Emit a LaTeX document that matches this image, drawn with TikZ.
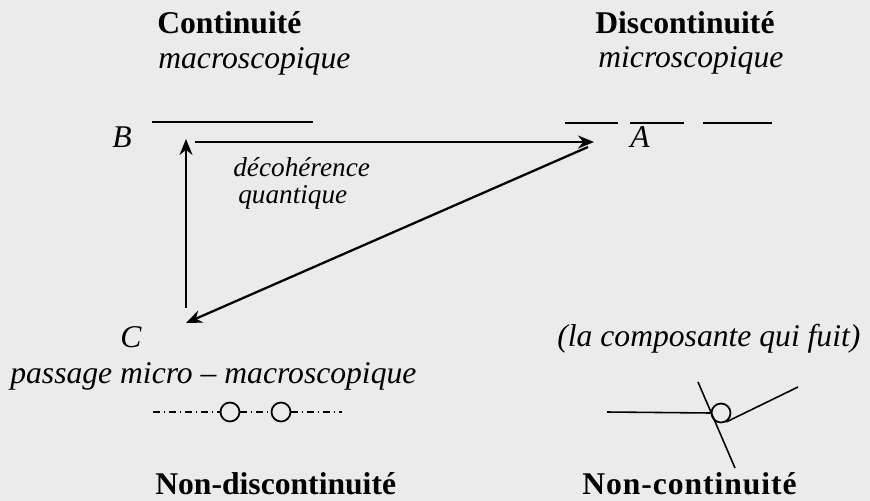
\documentclass[tikz,border=0pt]{standalone}
\usepackage{fontspec}
\setmainfont{Liberation Serif}
\usepackage{tikz}
\usetikzlibrary{arrows.meta,positioning}
\definecolor{pagegrey}{HTML}{EBEBEB}
\tikzset{
  ttl/.style={font=\fontsize{18}{21}\selectfont\bfseries,inner sep=0pt,anchor=base west},
  lbl/.style={font=\fontsize{18}{21}\selectfont\itshape,inner sep=0pt,anchor=base west},
  small/.style={font=\fontsize{15.5}{18}\selectfont\itshape,inner sep=0pt,anchor=base west},
  arr/.style={-{Stealth[length=3.2mm,width=2.6mm]},line width=1.3pt},
  lvl/.style={line width=0.9pt},
  ring/.style={draw,circle,line width=1pt,minimum size=0.38cm,inner sep=0pt},
  dashdot/.style={line width=0.7pt,dash pattern=on 0.14cm off 0.08cm on 0.02cm off 0.08cm},
}

\begin{document}
\begin{tikzpicture}[x=0.02cm,y=-0.02cm]
\fill[pagegrey] (0,0) rectangle (870,501);
\useasboundingbox (0,0) rectangle (870,501);
% headings
\node[ttl] (cont) at (157,33) {Continuité};
\node[lbl] (macro) at (158,68) {macroscopique};
\node[ttl] (discont) at (595,33) {Discontinuité};
\node[lbl] (micro) at (598,67) {microscopique};
% levels
\draw[lvl] (152,122) -- (313,122);
\foreach \a/\b in {565/618,630/684,703/772}
  \draw[lvl] (\a,123) -- (\b,123);
\node[lbl] (B) at (112,147) {B};
\node[lbl] (A) at (630,147) {A};
\node[lbl] (C) at (120,347) {C};
% arrows
\coordinate (hB) at (195,142);
\coordinate (hA) at (594,142);
\coordinate (dA) at (588,147);
\coordinate (dC) at (186,323);
\coordinate (vC) at (186,308);
\coordinate (vB) at (186,139);
\draw[arr] (hB) -- (hA);
\draw[arr] (dA) -- (dC);
\draw[arr] (vC) -- (vB);
\node[small] (deco) at (233,176) {décohérence};
\node[small] (quant) at (238,203) {quantique};
% left symbol
\node[lbl] (pass) at (10,383) {passage micro – macroscopique};
\node[ring] (o1) at (230,412) {};
\node[ring] (o2) at (281,412) {};
\coordinate (l1) at (153,412);
\coordinate (l2) at (342,412);
\draw[dashdot] (l1) -- (o1.west);
\draw[dashdot] (o1.east) -- (o2.west);
\draw[dashdot] (o2.east) -- (l2);
\node[ttl] (nondis) at (155,494) {Non-discontinuité};
% right symbol
\node[lbl] (fuit) at (557,346) {(la composante qui fuit)};
\node[ring] (o3) at (721,413) {};
\coordinate (r1) at (607,412);
\coordinate (r2) at (698,382);
\coordinate (r3) at (735,468);
\coordinate (r4) at (798,387);
\draw[lvl] (r1) -- (o3.west);
\draw[lvl] (r2) -- (r3);
\draw[lvl] (o3.-60) -- (r4);
\node[ttl,font=\fontsize{18}{21}\selectfont\bfseries\addfontfeature{LetterSpace=3}] (noncont) at (582,494) {Non-continuité};
\end{tikzpicture}
\end{document}
